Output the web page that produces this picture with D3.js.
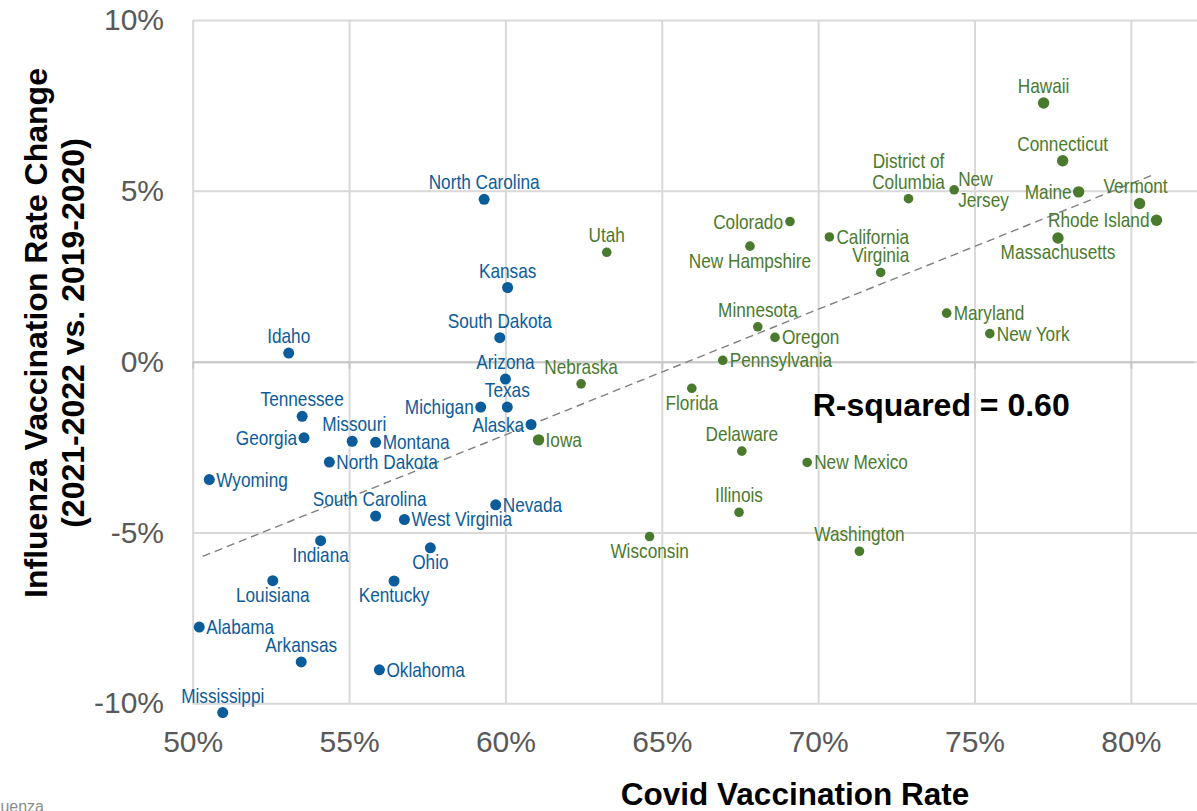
<!DOCTYPE html>
<html><head><meta charset="utf-8">
<script src="https://cdn.jsdelivr.net/npm/d3@7"></script>
<style>html,body{margin:0;padding:0;background:#fff;overflow:hidden}</style>
</head><body><svg id="c" width="1197" height="811"></svg>
<script>
// ---------------- data ----------------
const states = ["Idaho","Tennessee","Georgia","Missouri","Montana","North Dakota","Wyoming","South Carolina","Indiana","Louisiana","Alabama","Arkansas","Mississippi","Kentucky","Oklahoma","Ohio","West Virginia","Nevada","North Carolina","Kansas","South Dakota","Arizona","Texas","Michigan","Alaska",
  "Iowa","Nebraska","Utah","New Hampshire","Colorado","Minnesota","Oregon","Pennsylvania","Florida","Delaware","Illinois","Wisconsin","New Mexico","Washington","California","Virginia","District of Columbia","New Jersey","Hawaii","Connecticut","Maine","Vermont","Rhode Island","Massachusetts","Maryland","New York"];
const covidRate = [53.07,53.50,53.56,55.10,55.85,54.37,50.53,55.85,54.09,52.56,50.21,53.47,50.96,56.44,55.97,57.60,56.77,59.69,59.32,60.07,59.82,60.00,60.06,59.21,60.82,
  61.06,62.42,63.24,67.82,69.10,68.07,68.62,66.95,65.96,67.56,67.47,64.61,69.65,71.32,70.36,72.00,72.89,74.35,77.21,77.82,78.33,80.28,80.82,77.67,74.11,75.49];
const fluChange = [0.25,-1.60,-2.23,-2.33,-2.36,-2.94,-3.45,-4.52,-5.24,-6.41,-7.77,-8.79,-10.27,-6.42,-9.02,-5.45,-4.62,-4.19,4.75,2.17,0.70,-0.51,-1.33,-1.33,-1.84,
  -2.29,-0.65,3.20,3.38,4.10,1.02,0.71,0.04,-0.78,-2.62,-4.41,-5.12,-2.95,-5.55,3.65,2.61,4.77,5.03,7.57,5.88,4.97,4.63,4.14,3.62,1.42,0.82];
const seriesGroup = ["low","low","low","low","low","low","low","low","low","low","low","low","low","low","low","low","low","low","low","low","low","low","low","low","low",
  "high","high","high","high","high","high","high","high","high","high","high","high","high","high","high","high","high","high","high","high","high","high","high","high","high","high"];
// linear trendline endpoints
const trendX = [50.32, 80.74];
const trendY = [-5.70, 5.48];
const xTickValues = [50,55,60,65,70,75,80];
const yTickValues = [-10,-5,0,5,10];
const xTitle = "Covid Vaccination Rate";
const yTitleLines = ["Influenza Vaccination Rate Change","(2021-2022 vs. 2019-2020)"];
const rSquaredLabel = "R-squared = 0.60";
const sourceNote = "Influenza";

// ---------------- label placement (style) ----------------
const labelPlacement = {
  "Idaho":"a","Tennessee":"a","Georgia":"l","Missouri":"a","Montana":"r","North Dakota":"r","Wyoming":"r","South Carolina":"a","Indiana":"b","Louisiana":"b","Alabama":"r","Arkansas":"a","Mississippi":"a","Kentucky":"b","Oklahoma":"r","Ohio":"b","West Virginia":"r","Nevada":"r","North Carolina":"a","Kansas":"a","South Dakota":"a","Arizona":"a","Texas":"a","Michigan":"l","Alaska":"l",
  "Iowa":"r","Nebraska":"a","Utah":"a","New Hampshire":"b","Colorado":"l","Minnesota":"a","Oregon":"r","Pennsylvania":"r","Florida":"b","Delaware":"a","Illinois":"a","Wisconsin":"b","New Mexico":"r","Washington":"a","California":"r","Virginia":"a","District of Columbia":"a","New Jersey":"r","Hawaii":"a","Connecticut":"a","Maine":"l","Vermont":"a","Rhode Island":"l","Massachusetts":"b","Maryland":"r","New York":"r"
};
const labelShiftX = {"South Carolina":-6,"Vermont":-4,"Missouri":2};
const labelBreaks = {"District of Columbia":["District of","Columbia"],"New Jersey":["New","Jersey"]};
const largeMarkers = new Set(["Hawaii","Vermont","Rhode Island","Massachusetts","Maine","Connecticut","Iowa"]);
const colors = {low:"#0b5c9b", high:"#4a7a2e"};

// ---------------- chart ----------------
const svg = d3.select("#c");
const pLeft = 192.7, pRight = 1193.4, pTop = 20, pBottom = 703.3;
const x = d3.scaleLinear().domain([50,82]).range([pLeft,pRight]);
const y = d3.scaleLinear().domain([-10,10]).range([pBottom,pTop]);
const FONT = "'Liberation Sans', Arial, Helvetica, sans-serif";

// gridlines
const gx = svg.append("g").attr("transform",`translate(0,${pBottom})`)
  .call(d3.axisBottom(x).tickValues(xTickValues).tickSize(-(pBottom-pTop)).tickFormat(""));
gx.select(".domain").remove();
gx.selectAll("line").attr("stroke","#d9d9d9").attr("stroke-width",2);
const gy = svg.append("g").attr("transform",`translate(${pLeft},0)`)
  .call(d3.axisLeft(y).tickValues(yTickValues).tickSize(-(1197-pLeft)).tickFormat(""));
gy.select(".domain").remove();
gy.selectAll("line").attr("stroke","#d9d9d9").attr("stroke-width",2);

// horizontal axis line at 0 with outside ticks
const g0 = svg.append("g").attr("transform",`translate(0,${y(0)})`)
  .call(d3.axisBottom(x).tickValues(xTickValues).tickSize(7).tickSizeOuter(0).tickFormat(""));
g0.select(".domain").attr("stroke","#c8c8c8").attr("stroke-width",2);
g0.selectAll("line").attr("stroke","#c8c8c8").attr("stroke-width",2);

// tick labels
const xl = svg.append("g").attr("transform",`translate(0,${pBottom})`)
  .call(d3.axisBottom(x).tickValues(xTickValues).tickSize(0).tickPadding(27.4).tickFormat(d=>d+"%"));
xl.select(".domain").remove();
xl.selectAll("text").attr("font-family",FONT).attr("font-size","30px").attr("fill","#595959");
const yl = svg.append("g").attr("transform",`translate(${pLeft},0)`)
  .call(d3.axisLeft(y).tickValues(yTickValues).tickSize(0).tickPadding(28.7).tickFormat(d=>d+"%"));
yl.select(".domain").remove();
yl.selectAll("text").attr("font-family",FONT).attr("font-size","30px").attr("fill","#595959");

// trendline
svg.append("line")
  .attr("x1",x(trendX[0])).attr("y1",y(trendY[0]))
  .attr("x2",x(trendX[1])).attr("y2",y(trendY[1]))
  .attr("stroke","#7f7f7f").attr("stroke-width",1.4).attr("stroke-dasharray","8,5");

// points
const pts = states.map((s,i)=>({name:s, cx:covidRate[i], cy:fluChange[i], g:seriesGroup[i]}));
svg.append("g").selectAll("circle").data(pts).join("circle")
  .attr("cx",d=>x(d.cx)).attr("cy",d=>y(d.cy))
  .attr("r",d=> d.g==="low" ? 5.5 : (largeMarkers.has(d.name) ? 5.7 : 4.8))
  .attr("fill",d=>colors[d.g]);

// labels
const LH = 21;
const lg = svg.append("g");
pts.forEach(d=>{
  const px = x(d.cx) + (labelShiftX[d.name]||0), py = y(d.cy);
  const lines = labelBreaks[d.name] || [d.name];
  const pos = labelPlacement[d.name];
  lines.forEach((t,k)=>{
    let tx, ty, anchor;
    const m = lines.length;
    if (pos==="a"){ tx=px; ty=py-10-(m-1-k)*LH; anchor="middle"; }
    else if (pos==="b"){ tx=px; ty=py+21.5+k*LH; anchor="middle"; }
    else if (pos==="r"){ tx=px+(m>1?4:7); ty=py+7-(m-1)*LH/2+k*LH; anchor="start"; }
    else { tx=px-7; ty=py+7-(m-1)*LH/2+k*LH; anchor="end"; }
    lg.append("text").attr("transform",`translate(${tx},${ty}) scale(0.82,1)`)
      .attr("text-anchor",anchor).attr("font-family",FONT).attr("font-size","21px")
      .attr("fill",colors[d.g]).text(t);
  });
});

// R-squared annotation
svg.append("text").attr("x",812.7).attr("y",416).attr("font-family",FONT)
  .attr("font-weight","bold").attr("font-size","32px").attr("fill","#000").text(rSquaredLabel);

// axis titles
svg.append("text").attr("x",795).attr("y",805).attr("text-anchor","middle")
  .attr("font-family",FONT).attr("font-weight","bold").attr("font-size","31.5px").attr("fill","#000").text(xTitle);
const yt = svg.append("text").attr("transform","translate(0,333) rotate(-90)")
  .attr("text-anchor","middle").attr("font-family",FONT).attr("font-weight","bold").attr("font-size","32px").attr("fill","#000");
yt.append("tspan").attr("x",0).attr("y",47).text(yTitleLines[0]);
yt.append("tspan").attr("x",0).attr("y",84).text(yTitleLines[1]);

// clipped source note
svg.append("text").attr("x",44).attr("y",812).attr("text-anchor","end")
  .attr("font-family",FONT).attr("font-size","16px").attr("fill","#8c8c8c").text(sourceNote);
</script>
</body></html>
